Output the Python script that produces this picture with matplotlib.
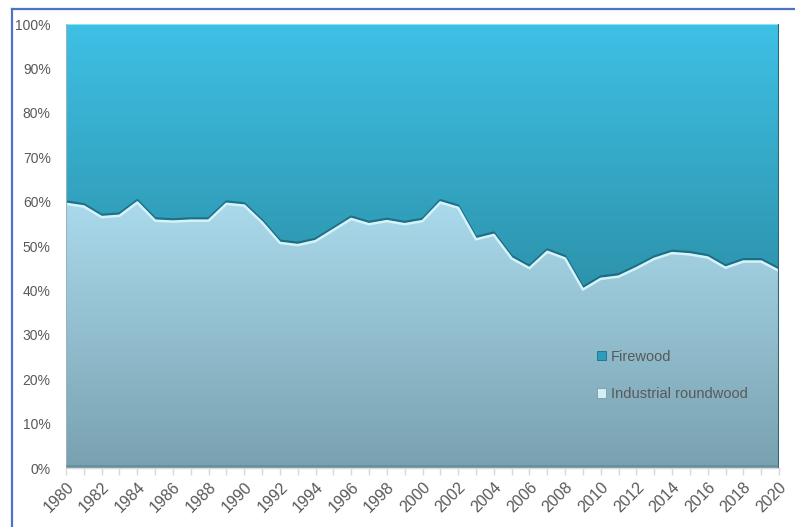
import numpy as np
import matplotlib
matplotlib.use("Agg")
import matplotlib.pyplot as plt
from matplotlib.colors import LinearSegmentedColormap
from matplotlib.lines import Line2D
from matplotlib.patches import Patch
import matplotlib.patheffects as pe

years = list(range(1980, 2021))
industrial = [59.5, 58.9, 56.5, 56.8, 59.8, 55.7, 55.5, 55.7, 55.7, 59.5,
              59.1, 55.3, 50.7, 50.2, 51.1, 53.6, 56.1, 54.9, 55.6, 54.9,
              55.6, 59.8, 58.6, 51.5, 52.5, 47.2, 45.0, 48.7, 47.2, 40.2,
              42.6, 43.1, 45.0, 47.1, 48.4, 48.1, 47.4, 45.1, 46.5, 46.5,
              44.4]
firewood = [100 - v for v in industrial]
series_names = ["Firewood", "Industrial roundwood"]
ytick_vals = list(range(0, 101, 10))
ytick_labels = [f"{v}%" for v in ytick_vals]
xtick_years = list(range(1980, 2021, 2))

plt.rcParams['font.family'] = ['Liberation Sans', 'DejaVu Sans']

fig = plt.figure(figsize=(7.95, 5.27), dpi=100)
ax = fig.add_axes([66/795, 59/527, 713/795, 444/527])

x = np.array(years, dtype=float)
ind = np.array(industrial) / 100.0
fw = np.array(firewood) / 100.0

polys = ax.stackplot(x, ind, fw, colors=["none", "none"], linewidth=0)
ind_poly, fw_poly = polys

grad = np.linspace(0, 1, 256).reshape(-1, 1)
cmap_fw = LinearSegmentedColormap.from_list("fw", ["#217484", "#3ec0e5"])
im1 = ax.imshow(grad, extent=(1980, 2020, 0, 1), origin="lower", aspect="auto",
                cmap=cmap_fw, zorder=1)
im1.set_clip_path(fw_poly.get_paths()[0], ax.transData)
cmap_ind = LinearSegmentedColormap.from_list("ind", ["#79a1b0", "#acdcee"])
im2 = ax.imshow(grad, extent=(1980, 2020, 0, 0.62), origin="lower", aspect="auto",
                cmap=cmap_ind, zorder=1)
im2.set_clip_path(ind_poly.get_paths()[0], ax.transData)

# bevel along the boundary
ax.plot(x, ind, color="#d6f2fa", lw=1.8, zorder=3, solid_joinstyle="round",
        path_effects=[pe.SimpleLineShadow(offset=(0, 1.6), shadow_color="#0d4355", alpha=0.5),
                      pe.Normal()])
# top highlight and right/bottom shadow edges
ax.plot([1980, 2020], [1, 1], color="#86e3f7", lw=1.5, zorder=3)
ax.plot([2020, 2020], [0, 1], color="#2a6676", lw=1.5, zorder=3)
ax.plot([1980, 1980], [0, 1], color="#9ab4bd", lw=0.8, zorder=3)
ax.plot([1980, 2020], [0.004, 0.004], color="#5f838f", lw=1.2, zorder=3, alpha=0.7)

ax.set_xlim(1980, 2020)
ax.set_ylim(0, 1)
for s in ax.spines.values():
    s.set_visible(False)
ax.axhline(0, color="#d9d9d9", lw=1, zorder=0, clip_on=False)

ax.set_yticks([v / 100 for v in ytick_vals])
ax.set_yticklabels(ytick_labels)
ax.tick_params(axis="y", length=0, pad=11, labelsize=10, labelcolor="#595959")
ax.set_xticks(xtick_years)
ax.set_xticklabels([str(y) for y in xtick_years], rotation=45, ha="right",
                   rotation_mode="anchor")
ax.set_xticks(years, minor=True)
ax.tick_params(axis="x", which="both", length=5, color="#d9d9d9", width=1,
               direction="out", labelsize=11.5, labelcolor="#595959", pad=3)

handles = [Patch(facecolor="#2e9cbc", edgecolor="#1f6f87", lw=0.6),
           Patch(facecolor="#d3eef6", edgecolor="#7f9aa3", lw=0.6)]
leg = ax.legend(handles, series_names, loc="upper left", bbox_to_anchor=(0.726, 0.296),
                frameon=False, fontsize=10.5, labelcolor="#595959", handlelength=0.6,
                handleheight=0.6, handletextpad=0.35, labelspacing=1.6)

# outer blue frame
fig.add_artist(Line2D([12/795, 12/795], [0, 1 - 9/527], transform=fig.transFigure,
                      color="#4a74c6", lw=1.6))
fig.add_artist(Line2D([12/795, 1], [1 - 9/527, 1 - 9/527], transform=fig.transFigure,
                      color="#4a74c6", lw=1.6))

fig.savefig("out.png", dpi=100)
